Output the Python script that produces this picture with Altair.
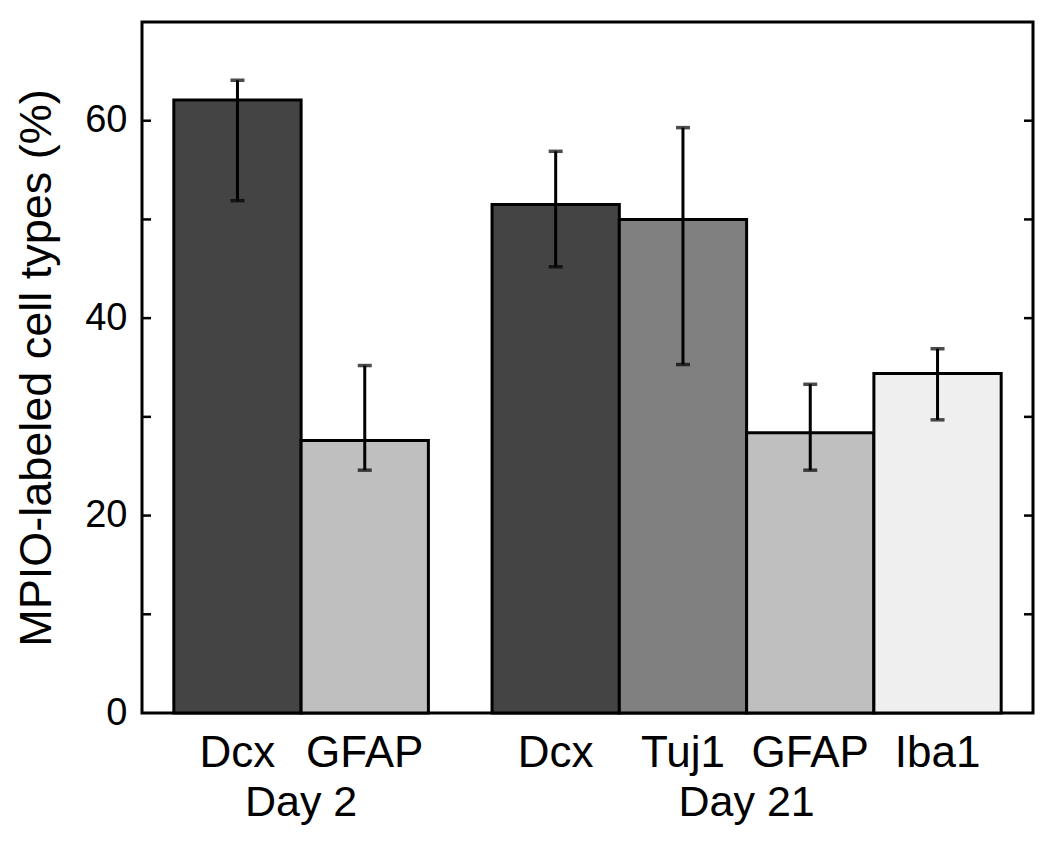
import altair as alt
import pandas as pd

# ---- data ----
labels = ["Dcx", "GFAP", "Dcx", "Tuj1", "GFAP", "Iba1"]
groups = ["Day 2", "Day 2", "Day 21", "Day 21", "Day 21", "Day 21"]
values = [62.1, 27.6, 51.5, 50.0, 28.4, 34.4]
err_low = [51.9, 24.6, 45.2, 35.3, 24.6, 29.7]
err_high = [64.1, 35.2, 56.9, 59.3, 33.3, 36.9]
fills = ["#444444", "#bfbfbf", "#444444", "#808080", "#bfbfbf", "#efefef"]
group_names = ["Day 2", "Day 21"]
y_ticks = [10, 20, 30, 40, 50, 60]
y_labels = [0, 20, 40, 60]

FONT = "Liberation Sans"
W, H = 891, 691

# position of each bar: index plus a half-slot gap between groups
rows = []
for i, (lab, g, v, lo, hi, f) in enumerate(zip(labels, groups, values, err_low, err_high, fills)):
    gi = group_names.index(g)
    c = i + 0.5 * gi + 0.75
    rows.append(dict(id=i, label=lab, group=g, value=v, lo=lo, hi=hi,
                     fill=f, center=c, left=c - 0.5, right=c + 0.5))
df = pd.DataFrame(rows)

grp = df.groupby("group", sort=False).agg(center=("center", "mean")).reset_index()

xs = alt.Scale(domain=[0, 7], nice=False, zero=False)
ys = alt.Scale(domain=[0, 70], nice=False)

base = alt.Chart(df)

bars = base.mark_bar(stroke="black", strokeWidth=3).encode(
    x=alt.X("left:Q", scale=xs, axis=None),
    x2="right:Q",
    y=alt.Y("value:Q", scale=ys,
            axis=alt.Axis(values=y_labels, ticks=False, domain=False, grid=False,
                          labelFont=FONT, labelFontSize=38, labelColor="black",
                          labelPadding=15,
                          title="MPIO-labeled cell types (%)",
                          titleFont=FONT, titleFontSize=45, titleFontWeight="normal",
                          titleColor="black", titlePadding=25)),
    y2=alt.datum(0),
    fill=alt.Fill("fill:N", scale=None),
)

err = base.mark_rule(color="black", strokeWidth=3).encode(
    x=alt.X("center:Q", scale=xs),
    y=alt.Y("lo:Q", scale=ys),
    y2="hi:Q",
)
cap_lo = base.mark_tick(color="black", orient="horizontal", size=14, thickness=3.5).encode(
    x=alt.X("center:Q", scale=xs), y=alt.Y("lo:Q", scale=ys))
cap_hi = base.mark_tick(color="black", orient="horizontal", size=14, thickness=3.5).encode(
    x=alt.X("center:Q", scale=xs), y=alt.Y("hi:Q", scale=ys))

ticks_df = pd.DataFrame({"t": y_ticks})
tick_left = alt.Chart(ticks_df).mark_rule(color="black", strokeWidth=2.5).encode(
    x=alt.value(0), x2=alt.value(9), y=alt.Y("t:Q", scale=ys))
tick_right = alt.Chart(ticks_df).mark_rule(color="black", strokeWidth=2.5).encode(
    x=alt.value(W - 9), x2=alt.value(W), y=alt.Y("t:Q", scale=ys))

bar_text = base.mark_text(font=FONT, fontSize=44, color="black",
                          baseline="alphabetic", align="center").encode(
    x=alt.X("center:Q", scale=xs), y=alt.value(H + 54), text="label:N")

grp_text = alt.Chart(grp).mark_text(font=FONT, fontSize=43, color="black",
                                    baseline="alphabetic", align="center").encode(
    x=alt.X("center:Q", scale=xs), y=alt.value(H + 103), text="group:N")

chart = alt.layer(bars, err, cap_lo, cap_hi, tick_left, tick_right, bar_text, grp_text).properties(
    width=W, height=H,
    background="white",
    autosize=alt.AutoSizeParams(type="none"),
    padding={"left": 134, "top": 14, "right": 9, "bottom": 120},
).configure_view(stroke="black", strokeWidth=3)

chart.save("out.html", embed_options={"renderer": "svg", "actions": False})
